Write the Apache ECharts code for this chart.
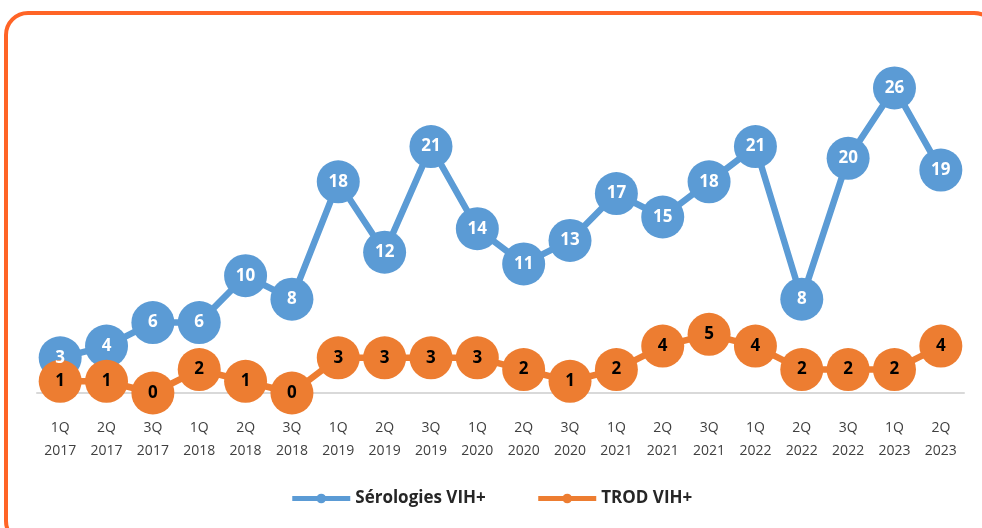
<!DOCTYPE html>
<html>
<head>
<meta charset="utf-8">
<script src="https://cdn.jsdelivr.net/npm/echarts@6/dist/echarts.min.js"></script>
<style>
  html, body { margin: 0; padding: 0; background: #fff; }
  #chart { width: 982px; height: 528px; }
</style>
</head>
<body>
<div id="chart"></div>
<script>
// trimestres
const quarters = ['1Q\n2017', '2Q\n2017', '3Q\n2017', '1Q\n2018', '2Q\n2018', '3Q\n2018',
  '1Q\n2019', '2Q\n2019', '3Q\n2019', '1Q\n2020', '2Q\n2020', '3Q\n2020',
  '1Q\n2021', '2Q\n2021', '3Q\n2021', '1Q\n2022', '2Q\n2022', '3Q\n2022',
  '1Q\n2023', '2Q\n2023']
const serologies = [3, 4, 6, 6, 10, 8, 18, 12, 21, 14, 11, 13, 17, 15, 18, 21, 8, 20, 26, 19]
const trod = [1, 1, 0, 2, 1, 0, 3, 3, 3, 3, 2, 1, 2, 4, 5, 4, 2, 2, 2, 4]

const BLUE = '#5B9BD5'
const ORANGE = '#ED7D31'
const FONT = '"Open Sans", sans-serif'

const chart = echarts.init(document.getElementById('chart'))

function lineSeries (name, data, color, labelColor) {
  return {
    name,
    type: 'line',
    data,
    symbol: 'circle',
    symbolSize: 43,
    lineStyle: { color, width: 6.5 },
    itemStyle: { color },
    label: {
      show: true,
      position: 'inside',
      color: labelColor,
      fontFamily: FONT,
      fontWeight: 'bold',
      fontSize: 17
    },
    emphasis: { disabled: true },
    animation: false
  }
}

chart.setOption({
  backgroundColor: '#fff',
  graphic: [{
    type: 'rect',
    shape: { x: 6, y: 13, width: 990, height: 530, r: 22 },
    style: { fill: 'none', stroke: '#FF6426', lineWidth: 4 },
    silent: true
  }],
  grid: { left: 37, right: 18, top: 41, bottom: 135 },
  legend: {
    bottom: 16,
    left: 'center',
    itemWidth: 58,
    itemHeight: 12,
    itemGap: 50,
    lineStyle: { width: 5 },
    textStyle: { fontFamily: FONT, fontWeight: 'bold', fontSize: 17, color: '#262626' },
    data: ['Sérologies VIH+', 'TROD VIH+']
  },
  xAxis: {
    type: 'category',
    data: quarters,
    boundaryGap: true,
    axisLine: { lineStyle: { color: '#D9D9D9', width: 2 } },
    axisTick: { show: false },
    axisLabel: {
      margin: 24,
      fontFamily: FONT,
      fontSize: 14,
      lineHeight: 23,
      color: '#404040',
      interval: 0
    }
  },
  yAxis: {
    type: 'value',
    min: 0,
    max: 30,
    show: false
  },
  series: [
    lineSeries('Sérologies VIH+', serologies, BLUE, '#fff'),
    lineSeries('TROD VIH+', trod, ORANGE, '#000')
  ]
})
</script>
</body>
</html>
